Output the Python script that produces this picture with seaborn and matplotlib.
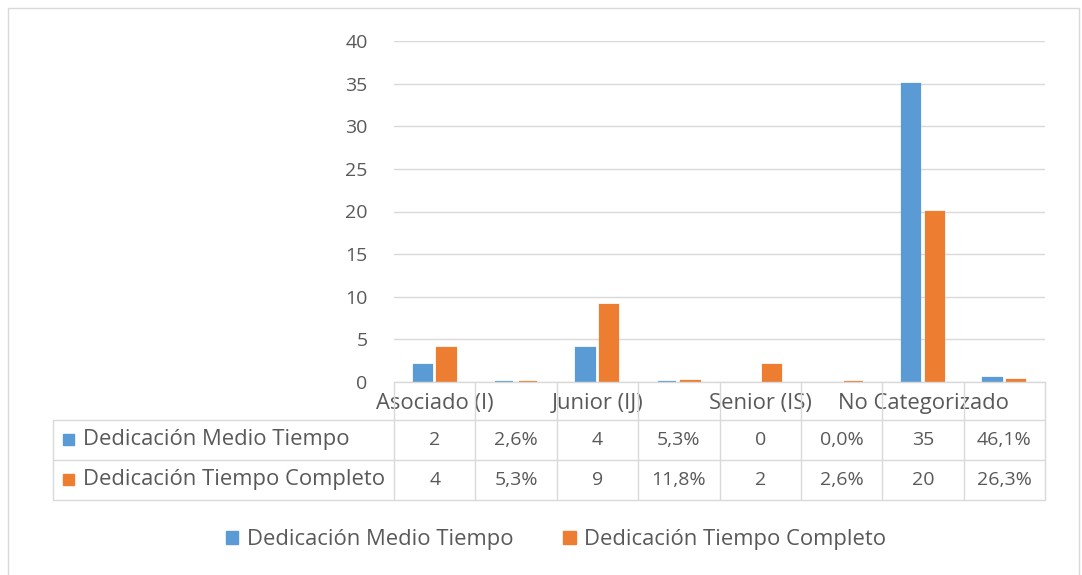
import matplotlib
matplotlib.use("Agg")
import matplotlib.pyplot as plt
import matplotlib.transforms as mtransforms
from matplotlib.patches import Rectangle
import seaborn as sns
import pandas as pd

# ---------------- data ----------------
categories = ["Asociado (I)", "Junior (IJ)", "Senior (IS)", "No Categorizado"]
series = ["Dedicación Medio Tiempo", "Dedicación Tiempo Completo"]
medio_count = [2, 4, 0, 35]
medio_pct = [2.6, 5.3, 0.0, 46.1]
completo_count = [4, 9, 2, 20]
completo_pct = [5.3, 11.8, 2.6, 26.3]
yticks = [0, 5, 10, 15, 20, 25, 30, 35, 40]

colors = ["#5B9BD5", "#ED7D31"]
text_color = "#595959"
grid_color = "#D9D9D9"

sns.set_theme(style="white")
plt.rcParams["font.family"] = ["Open Sans", "DejaVu Sans"]
FS = 14      # numbers
FS_T = 15.8  # words

# build long dataframe: each category has a count column and a percent column
cols, labels, rows = [], [], []
for i, c in enumerate(categories):
    cols += [c, c + " %"]
    labels += [c, ""]
    rows.append((c, series[0], medio_count[i]))
    rows.append((c + " %", series[0], medio_pct[i] / 100))
    rows.append((c, series[1], completo_count[i]))
    rows.append((c + " %", series[1], completo_pct[i] / 100))
df = pd.DataFrame(rows, columns=["col", "serie", "valor"])

cell_text = {series[0]: [], series[1]: []}
for i in range(len(categories)):
    cell_text[series[0]] += [str(medio_count[i]), f"{medio_pct[i]:.1f}%".replace(".", ",")]
    cell_text[series[1]] += [str(completo_count[i]), f"{completo_pct[i]:.1f}%".replace(".", ",")]

W, H = 1082, 575
fig = plt.figure(figsize=(W / 100, H / 100), dpi=100)

# pixel layout
ax_l, ax_r, ax_t, ax_b = 394, 1045, 41, 382
ax = fig.add_axes([ax_l / W, 1 - ax_b / H, (ax_r - ax_l) / W, (ax_b - ax_t) / H])

sns.barplot(data=df, x="col", y="valor", hue="serie", order=cols, hue_order=series,
            palette=colors, saturation=1, width=0.58, gap=0.22, ax=ax, legend=False,
            edgecolor=None, linewidth=0)
for p in ax.patches:
    p.set_edgecolor(p.get_facecolor())
    p.set_linewidth(1.6 if p.get_height() > 0 else 0)

ax.set_ylim(0, 40)
ax.set_xlim(-0.5, len(cols) - 0.5)
ax.set_yticks(yticks)
ax.set_yticklabels([str(t) for t in yticks], fontsize=FS, color=text_color)
ax.tick_params(axis="y", length=0, pad=19)
ax.set_xticks(range(len(cols)))
ax.set_xticklabels(labels, fontsize=FS_T, color=text_color)
ax.tick_params(axis="x", length=0, pad=8)
ax.set_xlabel("")
ax.set_ylabel("")
ax.grid(axis="y", color=grid_color, linewidth=1)
ax.set_axisbelow(True)
for s in ["top", "right", "left"]:
    ax.spines[s].set_visible(False)
ax.spines["bottom"].set_color(grid_color)
ax.spines["bottom"].set_linewidth(1)

# overlay axes in pixel coordinates for table / frame
overlay = fig.add_axes([0, 0, 1, 1], zorder=5)
overlay.set_xlim(0, W)
overlay.set_ylim(H, 0)
overlay.axis("off")
overlay.patch.set_alpha(0)

trans = mtransforms.blended_transform_factory(ax.transData, overlay.transData)

# table geometry
r_head_top, r1_top, r2_top, r_bot = ax_b, 420, 460, 500
tab_left = 53
lw = 1
for k in range(len(cols) + 1):
    overlay.plot([k - 0.5, k - 0.5], [r_head_top, r_bot], color=grid_color, lw=lw,
                 transform=trans, solid_capstyle="butt")
for yv in [r1_top, r2_top, r_bot]:
    overlay.plot([tab_left, ax_r], [yv, yv], color=grid_color, lw=lw)
overlay.plot([tab_left, tab_left], [r1_top, r_bot], color=grid_color, lw=lw)

# table text
for row_i, (s, ytop) in enumerate(zip(series, [r1_top, r2_top])):
    yc = ytop + 20
    overlay.add_patch(Rectangle((63, yc - 6), 11, 11, color=colors[row_i]))
    overlay.text(83, yc, s, fontsize=FS_T, color=text_color, va="center", ha="left")
    for k, t in enumerate(cell_text[s]):
        overlay.text(k, yc, t, fontsize=FS, color=text_color, va="center", ha="center",
                     transform=trans)

# legend
handles = [Rectangle((0, 0), 1, 1, color=c) for c in colors]
fig.legend(handles, series, loc="center", bbox_to_anchor=(556 / W, 1 - 540 / H), ncol=2,
           frameon=False, fontsize=FS_T, labelcolor=text_color, handlelength=0.55,
           handleheight=0.55, handletextpad=0.4, columnspacing=2.3)

# outer chart border
overlay.add_patch(Rectangle((8, 8), 1071, 580, fill=False, edgecolor=grid_color, lw=1))

fig.savefig("out.png", dpi=100, facecolor="white")
